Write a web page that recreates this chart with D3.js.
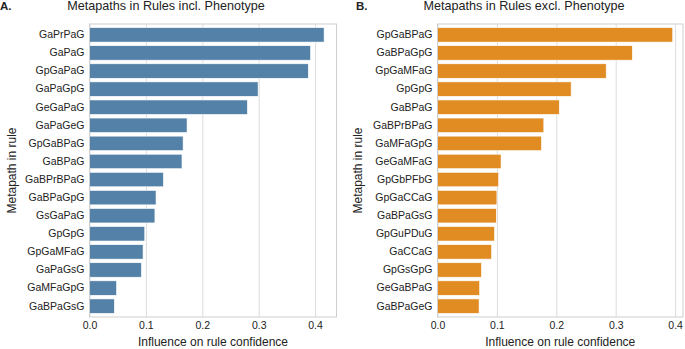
<!DOCTYPE html>
<html>
<head>
<meta charset="utf-8">
<script src="https://cdn.jsdelivr.net/npm/d3@7"></script>
<style>
  body { margin: 0; background: #fff; }
  svg { font-family: 'Liberation Sans', Arial, sans-serif; }
  .tick text { font-size: 10.5px; fill: #222; }
</style>
</head>
<body>
<svg id="chart" width="685" height="349"></svg>
<script>
const inclNames = ['GaPrPaG', 'GaPaG', 'GpGaPaG', 'GaPaGpG', 'GeGaPaG', 'GaPaGeG', 'GpGaBPaG', 'GaBPaG',
  'GaBPrBPaG', 'GaBPaGpG', 'GsGaPaG', 'GpGpG', 'GpGaMFaG', 'GaPaGsG', 'GaMFaGpG', 'GaBPaGsG'];
const inclValues = [0.416, 0.392, 0.388, 0.299, 0.280, 0.173, 0.166, 0.164,
  0.131, 0.118, 0.116, 0.098, 0.095, 0.092, 0.048, 0.044];

const exclNames = ['GpGaBPaG', 'GaBPaGpG', 'GpGaMFaG', 'GpGpG', 'GaBPaG', 'GaBPrBPaG', 'GaMFaGpG', 'GeGaMFaG',
  'GpGbPFbG', 'GpGaCCaG', 'GaBPaGsG', 'GpGuPDuG', 'GaCCaG', 'GpGsGpG', 'GeGaBPaG', 'GaBPaGeG'];
const exclValues = [0.396, 0.328, 0.284, 0.225, 0.205, 0.179, 0.175, 0.107,
  0.103, 0.100, 0.099, 0.096, 0.091, 0.074, 0.071, 0.070];

const xTicks = [0.0, 0.1, 0.2, 0.3, 0.4];

const svg = d3.select('#chart');

function drawPanel(opts) {
  const data = opts.names.map((n, i) => ({ name: n, value: opts.values[i] }));
  const top = 24;
  const bottom = 317;

  const x = d3.scaleLinear()
    .domain([0, opts.xMax])
    .range([opts.left, opts.right]);
  const y = d3.scaleBand()
    .domain(opts.names)
    .range([top, bottom])
    .padding(0.2);

  const g = svg.append('g');

  // grid lines
  g.append('g')
    .attr('transform', `translate(0, ${bottom})`)
    .call(d3.axisBottom(x).tickValues(xTicks).tickSize(-(bottom - top)).tickFormat(''))
    .call(s => s.select('.domain').remove())
    .call(s => s.selectAll('line').attr('stroke', '#dcdcdc').attr('stroke-width', 1));

  // bars
  g.selectAll('rect.bar')
    .data(data)
    .enter().append('rect')
      .attr('class', 'bar')
      .attr('x', x(0))
      .attr('y', d => y(d.name))
      .attr('width', d => x(d.value) - x(0))
      .attr('height', y.bandwidth())
      .attr('fill', opts.color)
      .attr('stroke', '#fff')
      .attr('stroke-width', 0.6);

  // frame
  g.append('rect')
    .attr('x', opts.left)
    .attr('y', top)
    .attr('width', opts.right - opts.left)
    .attr('height', bottom - top)
    .attr('fill', 'none')
    .attr('stroke', '#cfcfcf')
    .attr('stroke-width', 1);

  // x labels
  g.append('g')
    .attr('transform', `translate(0, ${bottom})`)
    .call(d3.axisBottom(x).tickValues(xTicks).tickSize(0).tickPadding(5).tickFormat(d3.format('.1f')))
    .call(s => s.select('.domain').remove());

  // y labels
  g.append('g')
    .attr('transform', `translate(${opts.left}, 0)`)
    .call(d3.axisLeft(y).tickSize(0).tickPadding(5))
    .call(s => s.select('.domain').remove());

  g.append('text')
    .attr('x', (opts.left + opts.right) / 2)
    .attr('y', 346)
    .attr('text-anchor', 'middle')
    .attr('font-size', 12)
    .attr('fill', '#222')
    .text('Influence on rule confidence');

  g.append('text')
    .attr('transform', `translate(${opts.yLabelX}, ${(top + bottom) / 2}) rotate(-90)`)
    .attr('text-anchor', 'middle')
    .attr('font-size', 12)
    .attr('fill', '#222')
    .text('Metapath in rule');

  g.append('text')
    .attr('x', opts.titleX)
    .attr('y', 10)
    .attr('text-anchor', 'middle')
    .attr('font-size', 12.6)
    .attr('fill', '#222')
    .text(opts.title);

  g.append('text')
    .attr('x', opts.letterX)
    .attr('y', 10)
    .attr('font-size', 11.5)
    .attr('font-weight', 'bold')
    .attr('fill', '#222')
    .text(opts.letter);
}

drawPanel({
  names: inclNames, values: inclValues, color: '#5481a8',
  left: 89.5, right: 336.5, xMax: 0.438,
  title: 'Metapaths in Rules incl. Phenotype', titleX: 166,
  letter: 'A.', letterX: 0, yLabelX: 16
});

drawPanel({
  names: exclNames, values: exclValues, color: '#e08c22',
  left: 437.5, right: 683, xMax: 0.4133,
  title: 'Metapaths in Rules excl. Phenotype', titleX: 524,
  letter: 'B.', letterX: 356, yLabelX: 362
});
</script>
</body>
</html>
